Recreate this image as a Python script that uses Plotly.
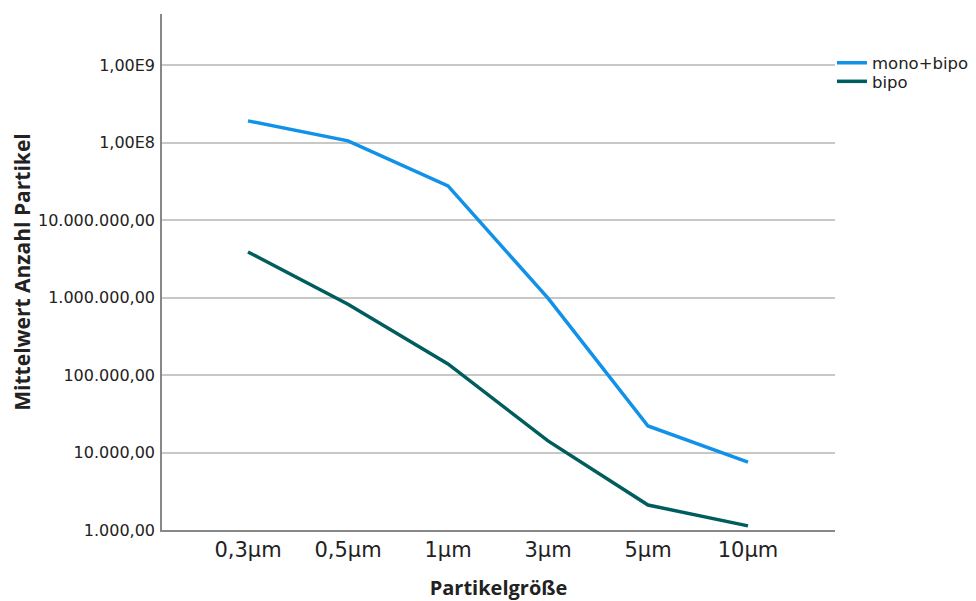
import plotly.graph_objects as go

categories = ["0,3µm", "0,5µm", "1µm", "3µm", "5µm", "10µm"]
mono_bipo = [1.9e8, 1.05e8, 2.75e7, 9.8e5, 2.2e4, 7.5e3]
bipo = [3.87e6, 8.2e5, 1.39e5, 1.41e4, 2.1e3, 1.13e3]
ytick_vals = [1e3, 1e4, 1e5, 1e6, 1e7, 1e8, 1e9]
ytick_text = ["1.000,00", "10.000,00", "100.000,00", "1.000.000,00",
              "10.000.000,00", "1,00E8", "1,00E9"]

fig = go.Figure()
fig.add_trace(go.Scatter(x=list(range(len(categories))), y=mono_bipo, mode="lines",
                         name="mono+bipo", legend="legend",
                         line=dict(color="#1192e8", width=3.5)))
fig.add_trace(go.Scatter(x=list(range(len(categories))), y=bipo, mode="lines",
                         name="bipo", legend="legend2",
                         line=dict(color="#005d5d", width=3.5)))

legend_common = dict(x=0.9955, xanchor="left", yanchor="middle",
                     font=dict(family="DejaVu Sans", size=16.5, color="#222"),
                     itemwidth=30, bgcolor="rgba(0,0,0,0)")

fig.update_layout(
    width=968, height=593,
    margin=dict(l=154, r=141, t=6, b=71, autoexpand=False),
    plot_bgcolor="white", paper_bgcolor="white",
    showlegend=True,
    legend=dict(y=0.905, **legend_common),
    legend2=dict(y=0.869, **legend_common),
    xaxis=dict(
        range=[-0.86, 5.87],
        tickvals=list(range(len(categories))), ticktext=categories,
        showgrid=False, zeroline=False,
        showline=True, linecolor="#888888", linewidth=1.5,
        ticks="", tickfont=dict(family="DejaVu Sans", size=21, color="#222"),
        title=dict(text="<b>Partikelgröße</b>", standoff=20,
                   font=dict(family="Open Sans", size=20, color="#222")),
    ),
    yaxis=dict(
        type="log", range=[3, 9.658],
        tickvals=ytick_vals, ticktext=ytick_text,
        showgrid=True, gridcolor="#c8c8c8", gridwidth=1.5,
        zeroline=False,
        showline=True, linecolor="#888888", linewidth=1.5,
        ticks="", ticklabelstandoff=2,
        tickfont=dict(family="DejaVu Sans", size=16, color="#222"),
        title=dict(text="<b>Mittelwert Anzahl Partikel</b>", standoff=8,
                   font=dict(family="Open Sans", size=21, color="#222")),
    ),
)

fig.write_html("out.html")
